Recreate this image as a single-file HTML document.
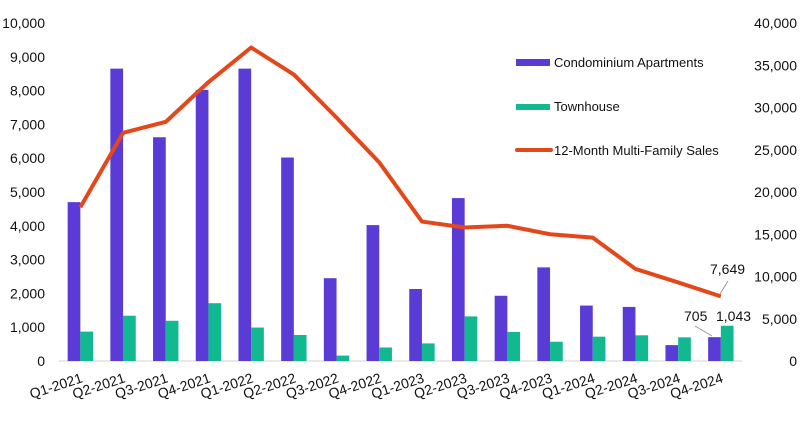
<!DOCTYPE html>
<html><head><meta charset="utf-8"><style>
html,body{margin:0;padding:0;background:#fff;}
svg{display:block;font-family:"Liberation Sans",Arial,sans-serif;}
</style></head><body>
<svg id="c" width="800" height="445" viewBox="0 0 800 445"></svg>
<script>
(function(){
const s=document.getElementById('c');
let h='';
const y0=361,yTop=23,x0=59,cw=42.7;
const yl=v=>y0-(v/10000)*(y0-yTop);
const yr=v=>y0-(v/40000)*(y0-yTop);
const fmt=v=>String(v).replace(/\B(?=(\d{3})+(?!\d))/g,',');
for(let i=0;i<=10;i++){h+=`<text x="45" y="${yl(i*1000)+5}" font-size="14" text-anchor="end" fill="#111">${fmt(i*1000)}</text>`;}
for(let i=0;i<=8;i++){h+=`<text x="797" y="${yr(i*5000)+5}" font-size="14" text-anchor="end" fill="#111">${fmt(i*5000)}</text>`;}
h+=`<line x1="${x0}" y1="${y0}" x2="742" y2="${y0}" stroke="#d0d0d0" stroke-width="1"/>`;
const p=[4700,8650,6620,8020,8650,6020,2450,4020,2130,4820,1930,2770,1640,1600,470,705];
const g=[870,1340,1190,1710,990,770,160,400,520,1320,860,570,720,760,700,1043];
const l=[18200,27000,28300,33000,37100,33900,28800,23500,16500,15800,16000,15000,14600,10900,9300,7649];
const lab=['Q1-2021','Q2-2021','Q3-2021','Q4-2021','Q1-2022','Q2-2022','Q3-2022','Q4-2022','Q1-2023','Q2-2023','Q3-2023','Q4-2023','Q1-2024','Q2-2024','Q3-2024','Q4-2024'];
let pts=[];
for(let i=0;i<16;i++){
 const c=x0+cw*(i+0.5);
 h+=`<rect x="${c-12.7}" y="${yl(p[i])}" width="12.7" height="${y0-yl(p[i])}" fill="#5b3bd6"/>`;
 h+=`<rect x="${c}" y="${yl(g[i])}" width="12.7" height="${y0-yl(g[i])}" fill="#12b890"/>`;
 pts.push(`${c},${yr(l[i])}`);
 h+=`<text transform="translate(${c+3},${y0+21}) rotate(-18)" font-size="14" text-anchor="end" fill="#111">${lab[i]}</text>`;
}
h+=`<polyline points="${pts.join(' ')}" fill="none" stroke="#e4471a" stroke-width="4" stroke-linejoin="round"/>`;
h+=`<line x1="720" y1="294" x2="728" y2="281" stroke="#999" stroke-width="1"/>`;
h+=`<text x="710" y="274" font-size="14" fill="#111">7,649</text>`;
h+=`<line x1="695" y1="326" x2="712" y2="336" stroke="#999" stroke-width="1"/>`;
h+=`<text x="684" y="321" font-size="14" fill="#111">705</text>`;
h+=`<text x="716" y="321" font-size="14" fill="#111">1,043</text>`;
h+=`<rect x="516" y="59" width="34" height="7" fill="#5b3bd6"/><text x="554" y="67" font-size="13" fill="#111">Condominium Apartments</text>`;
h+=`<rect x="516" y="104" width="34" height="6" fill="#12b890"/><text x="554" y="111" font-size="13" fill="#111">Townhouse</text>`;
h+=`<line x1="517" y1="150" x2="551" y2="150" stroke="#e4471a" stroke-width="4" stroke-linecap="round"/><text x="554" y="155" font-size="13" fill="#111">12-Month Multi-Family Sales</text>`;
s.innerHTML=h;
})();
</script>
</body></html>
